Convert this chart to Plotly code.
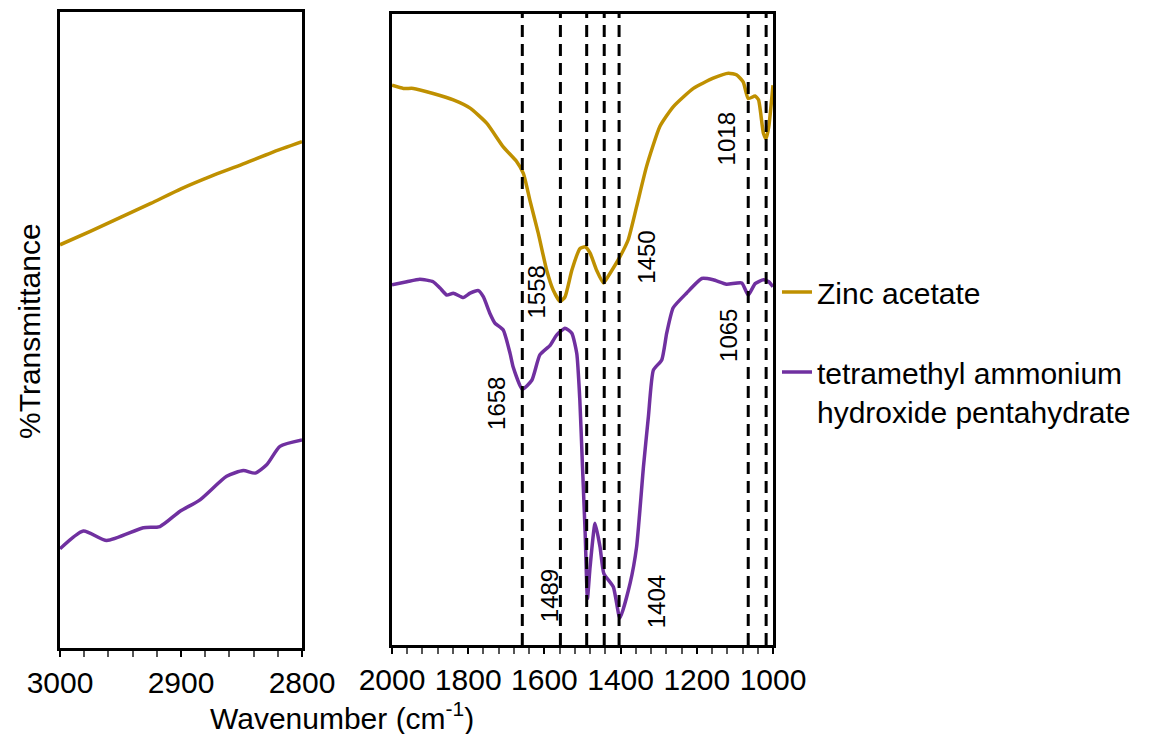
import plotly.graph_objects as go

# ---------------- data (arbitrary %T units) ----------------
# Left panel: 3000-2800 cm-1
wn_left_zinc = [3000, 2975, 2950, 2925, 2900, 2875, 2850, 2825, 2800]
t_left_zinc = [63.4, 65.5, 67.7, 69.9, 72.2, 74.2, 76.0, 77.9, 79.6]

wn_left_tmah = [3000, 2980.7, 2961.4, 2931.1, 2917.4, 2900.8, 2884.3, 2862.3,
                2848.5, 2838.8, 2829.2, 2818.2, 2800]
t_left_tmah = [15.6, 18.4, 16.9, 18.9, 19.1, 21.5, 23.3, 27.0,
               27.9, 27.5, 28.8, 31.7, 32.7]

# Right panel: 2000-1000 cm-1
wn_right_zinc = [2000, 1970, 1944, 1892, 1839, 1795, 1751, 1708, 1673, 1655, 1638,
                 1616, 1594, 1577, 1559, 1546, 1528, 1507, 1493, 1480, 1463, 1445,
                 1428, 1402, 1380, 1358, 1332, 1297, 1262, 1209, 1157, 1117, 1095,
                 1078, 1065, 1047, 1038, 1025, 1018, 1011, 1000]
t_right_zinc = [88.5, 88.0, 88.0, 87.2, 86.2, 84.9, 82.5, 78.8, 76.5, 74.6, 70.4,
                65.2, 59.4, 56.3, 54.5, 55.2, 59.4, 62.8, 63.1, 62.1, 59.4, 57.4,
                58.9, 61.5, 64.2, 69.4, 75.7, 82.0, 85.1, 88.0, 89.6, 90.4, 90.1,
                89.0, 86.4, 86.8, 86.2, 80.9, 80.1, 82.0, 88.5]

wn_right_tmah = [2000, 1961, 1927, 1892, 1874, 1856, 1839, 1813, 1795, 1773, 1760,
                 1743, 1730, 1708, 1690, 1682, 1658, 1633, 1612, 1585, 1568, 1546,
                 1528, 1515, 1507, 1500, 1493, 1487, 1480, 1467, 1454, 1444, 1419,
                 1402, 1375, 1358, 1340, 1327, 1314, 1292, 1279, 1262, 1227, 1187,
                 1157, 1122, 1082, 1065, 1047, 1025, 1011, 1000]
t_right_tmah = [57.1, 57.6, 58.0, 57.6, 56.6, 55.5, 55.8, 55.1, 55.8, 56.2, 55.2,
                52.6, 51.1, 50.0, 46.3, 44.2, 40.7, 42.1, 46.1, 47.6, 49.2, 50.3,
                49.5, 46.3, 39.0, 28.5, 18.0, 7.8, 12.8, 19.6, 15.9, 11.7, 9.6,
                4.7, 10.2, 15.9, 28.5, 36.4, 43.7, 45.3, 49.5, 53.5, 55.8, 58.1,
                57.9, 57.2, 57.4, 55.5, 57.3, 57.9, 57.6, 56.8]

# marked bands (dashed lines) and their labels
band_positions = [1658, 1558, 1489, 1443, 1404, 1065, 1018]
band_labels = ["1658", "1558", "1489", "1450", "1404", "1065", "1018"]

series_names = ["Zinc acetate", "tetramethyl ammonium<br>hydroxide pentahydrate"]
series_colors = ["#BF9000", "#7030A0"]

FONT = "Arial, Liberation Sans, sans-serif"

fig = go.Figure()

fig.add_trace(go.Scatter(x=wn_left_zinc, y=t_left_zinc, mode="lines",
                         line=dict(color=series_colors[0], width=3.5, shape="spline", smoothing=0.6),
                         xaxis="x", yaxis="y", showlegend=False, hoverinfo="skip"))
fig.add_trace(go.Scatter(x=wn_left_tmah, y=t_left_tmah, mode="lines",
                         line=dict(color=series_colors[1], width=3.5, shape="spline", smoothing=0.6),
                         xaxis="x", yaxis="y", showlegend=False, hoverinfo="skip"))
fig.add_trace(go.Scatter(x=wn_right_zinc, y=t_right_zinc, mode="lines", name=series_names[0],
                         line=dict(color=series_colors[0], width=3.5, shape="spline", smoothing=0.5),
                         xaxis="x2", yaxis="y2", legendgroup="a"))
fig.add_trace(go.Scatter(x=wn_right_tmah, y=t_right_tmah, mode="lines", name=series_names[1],
                         line=dict(color=series_colors[1], width=3.5, shape="spline", smoothing=0.5),
                         xaxis="x2", yaxis="y2", legendgroup="b"))

for b in band_positions:
    fig.add_shape(type="line", xref="x2", yref="y2 domain", x0=b, x1=b, y0=0, y1=1,
                  line=dict(color="black", width=3, dash="12px,7px"), layer="above")

# label positions (x in cm-1, y in %T units of the right panel)
label_pos = {"1658": (1724, 38.4), "1558": (1622, 55.9), "1489": (1588, 8.3),
             "1450": (1333, 61.4), "1404": (1307, 7.2), "1065": (1115, 49.1),
             "1018": (1123, 80.0)}
for lab in band_labels:
    lx, ly = label_pos[lab]
    fig.add_annotation(x=lx, y=ly, xref="x2", yref="y2", text=lab, textangle=-90,
                       showarrow=False, xanchor="center", yanchor="middle",
                       font=dict(family=FONT, size=24, color="black"))

axis_common = dict(showline=True, mirror=True, linecolor="black", linewidth=2.5,
                   showgrid=False, zeroline=False)

fig.update_layout(
    width=1152, height=734,
    margin=dict(l=0, r=0, t=0, b=0, autoexpand=False),
    paper_bgcolor="white", plot_bgcolor="white",
    font=dict(family=FONT, size=30, color="black"),
    xaxis=dict(domain=[60 / 1152, 302 / 1152], range=[3000, 2800], anchor="y",
               tickmode="linear", tick0=2800, dtick=100, ticks="outside", ticklen=6,
               tickwidth=1.5, tickcolor="black", ticklabelstandoff=0,
               minor=dict(dtick=20, ticks="outside", ticklen=6, tickwidth=1.5, tickcolor="#555"),
               tickfont=dict(size=30), automargin=False, **axis_common),
    yaxis=dict(domain=[1 - 648 / 734, 1 - 12 / 734], range=[0, 100], anchor="x",
               showticklabels=False, ticks="", automargin=False, **axis_common),
    xaxis2=dict(domain=[392 / 1152, 773 / 1152], range=[2000, 1000], anchor="y2",
                tickmode="linear", tick0=1000, dtick=200, ticks="outside", ticklen=6,
                tickwidth=1.5, tickcolor="black", ticklabelstandoff=0,
                minor=dict(dtick=40, ticks="outside", ticklen=6, tickwidth=1.5, tickcolor="#555"),
                tickfont=dict(size=30), automargin=False, **axis_common),
    yaxis2=dict(domain=[1 - 645 / 734, 1 - 14 / 734], range=[0.47, 99.7], anchor="x2",
                showticklabels=False, ticks="", automargin=False, **axis_common),
    legend=dict(x=777 / 1152, y=1 - 266 / 734, xanchor="left", yanchor="top",
                font=dict(family=FONT, size=30, color="black"), bgcolor="rgba(0,0,0,0)",
                itemwidth=30, tracegroupgap=38, valign="top"),
    showlegend=True,
)

fig.add_annotation(x=342 / 1152, y=1 - 716 / 734, xref="paper", yref="paper",
                   xanchor="center", yanchor="middle",
                   text="Wavenumber (cm<sup>-1</sup>)", showarrow=False,
                   font=dict(family=FONT, size=30, color="black"))
fig.add_annotation(x=30 / 1152, y=1 - 331 / 734, xref="paper", yref="paper",
                   xanchor="center", yanchor="middle",
                   text="%Transmittance", textangle=-90, showarrow=False,
                   font=dict(family=FONT, size=30, color="black"))

fig.write_html("out.html")
